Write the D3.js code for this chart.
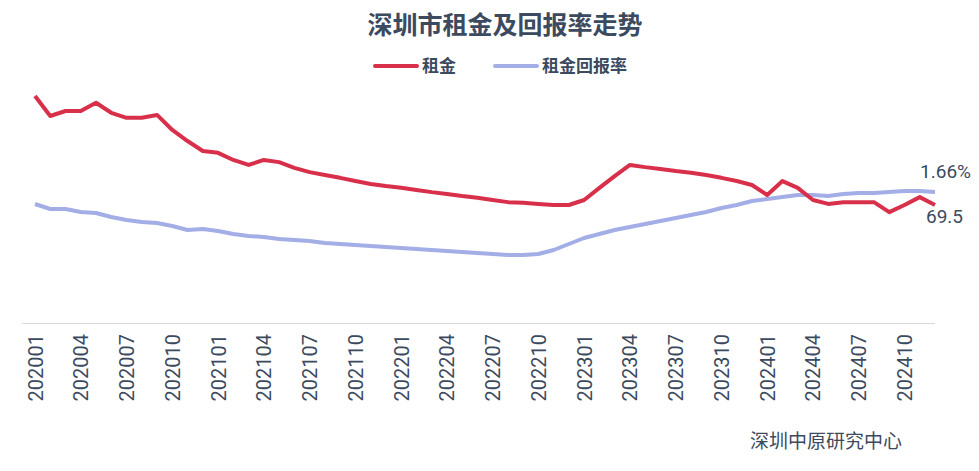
<!DOCTYPE html>
<html><head><meta charset="utf-8">
<script src="https://cdn.jsdelivr.net/npm/d3@7"></script>
<style>body{margin:0;background:#fff;font-family:"Noto Sans CJK SC","Noto Sans",sans-serif;}</style>
</head><body><div id="chart"></div>
<script>
var months = [];
for (var yr = 2020; yr <= 2024; yr++) for (var m = 1; m <= 12; m++) months.push(yr + (m < 10 ? "0" : "") + m);
var tickLabels = months.filter(function(d, i){ return i % 3 === 0; });

var rent = [100.0,94.4,95.8,95.8,98.1,95.3,93.9,93.9,94.7,90.5,87.4,84.6,84.1,82.1,80.7,82.1,81.5,79.9,
    78.7,77.9,77.1,76.2,75.4,74.8,74.3,73.7,73.1,72.6,72.0,71.5,70.9,70.3,70.1,69.8,69.5,69.5,70.9,74.3,77.6,
    80.7,80.1,79.6,79.0,78.5,77.9,77.1,76.2,75.1,72.3,76.2,74.3,70.9,69.8,70.3,70.3,70.3,67.5,69.5,71.7,69.5];
var yieldRate = [1.60,1.575,1.575,1.56,1.555,1.535,1.52,1.51,1.505,1.49,1.47,1.475,1.465,1.45,1.44,1.435,1.425,1.42,
    1.415,1.405,1.40,1.395,1.39,1.385,1.38,1.375,1.37,1.365,1.36,1.355,1.35,1.345,1.345,1.35,
    1.37,1.40,1.43,1.45,1.47,1.485,1.50,1.515,1.53,1.545,1.56,1.58,1.595,1.615,1.625,1.635,1.645,1.645,1.64,1.65,1.655,1.655,1.66,1.665,1.665,1.66];

var width = 979, height = 471;
var svg = d3.select("#chart").append("svg").attr("width", width).attr("height", height);

var x = d3.scalePoint().domain(months).range([35, 935]);
var yRent = d3.scaleLinear().domain([69.5, 100]).range([205, 96]);
var yYield = d3.scaleLinear().domain([1.66, 1.60]).range([192, 204]);

svg.append("text").attr("x", 505).attr("y", 34).attr("text-anchor", "middle")
    .attr("font-size", 25).attr("font-weight", "bold").attr("fill", "#3b4a5e").text("深圳市租金及回报率走势");

// legend
var legend = [{name: "租金", color: "#d8304a", x: 375}, {name: "租金回报率", color: "#a3aee6", x: 495}];
legend.forEach(function(l){
    svg.append("line").attr("x1", l.x).attr("x2", l.x + 42).attr("y1", 66).attr("y2", 66)
        .attr("stroke", l.color).attr("stroke-width", 4).attr("stroke-linecap", "round");
    svg.append("text").attr("x", l.x + 47).attr("y", 72).attr("font-size", 17).attr("font-weight", "bold")
        .attr("fill", "#3b4a5e").text(l.name);
});

// x axis
var xAxis = svg.append("g").attr("transform", "translate(0,323)")
    .call(d3.axisBottom(x).tickValues(tickLabels).tickSize(0).tickPadding(8));
xAxis.select(".domain").attr("stroke", "#d9d9d9").attr("d", "M22,0.5H935");
xAxis.selectAll("text").attr("transform", "rotate(-90)").attr("text-anchor", "end")
    .attr("x", -11).attr("y", 0).attr("dy", "0.35em")
    .attr("font-size", 20).attr("fill", "#3b4a5e").attr("font-family", "Roboto, 'Noto Sans', sans-serif");

var lineYield = d3.line().x(function(d, i){ return x(months[i]); }).y(function(d){ return yYield(d); });
var lineRent = d3.line().x(function(d, i){ return x(months[i]); }).y(function(d){ return yRent(d); });

svg.append("path").datum(yieldRate).attr("d", lineYield).attr("fill", "none")
    .attr("stroke", "#a3aee6").attr("stroke-width", 4).attr("stroke-linejoin", "round");
svg.append("path").datum(rent).attr("d", lineRent).attr("fill", "none")
    .attr("stroke", "#d8304a").attr("stroke-width", 4).attr("stroke-linejoin", "round");

var last = months.length - 1;
svg.append("text").attr("x", x(months[last]) + 36).attr("y", yYield(yieldRate[last]) - 14)
    .attr("text-anchor", "end").attr("font-size", 19).attr("fill", "#3b4a5e")
    .attr("font-family", "Roboto, sans-serif").text(yieldRate[last].toFixed(2) + "%");
svg.append("text").attr("x", x(months[last]) + 28).attr("y", yRent(rent[last]) + 18)
    .attr("text-anchor", "end").attr("font-size", 19).attr("fill", "#3b4a5e")
    .attr("font-family", "Roboto, sans-serif").text(rent[last].toFixed(1));

svg.append("text").attr("x", 902).attr("y", 448).attr("text-anchor", "end")
    .attr("font-size", 19).attr("fill", "#3b4a5e").text("深圳中原研究中心");
</script></body></html>
